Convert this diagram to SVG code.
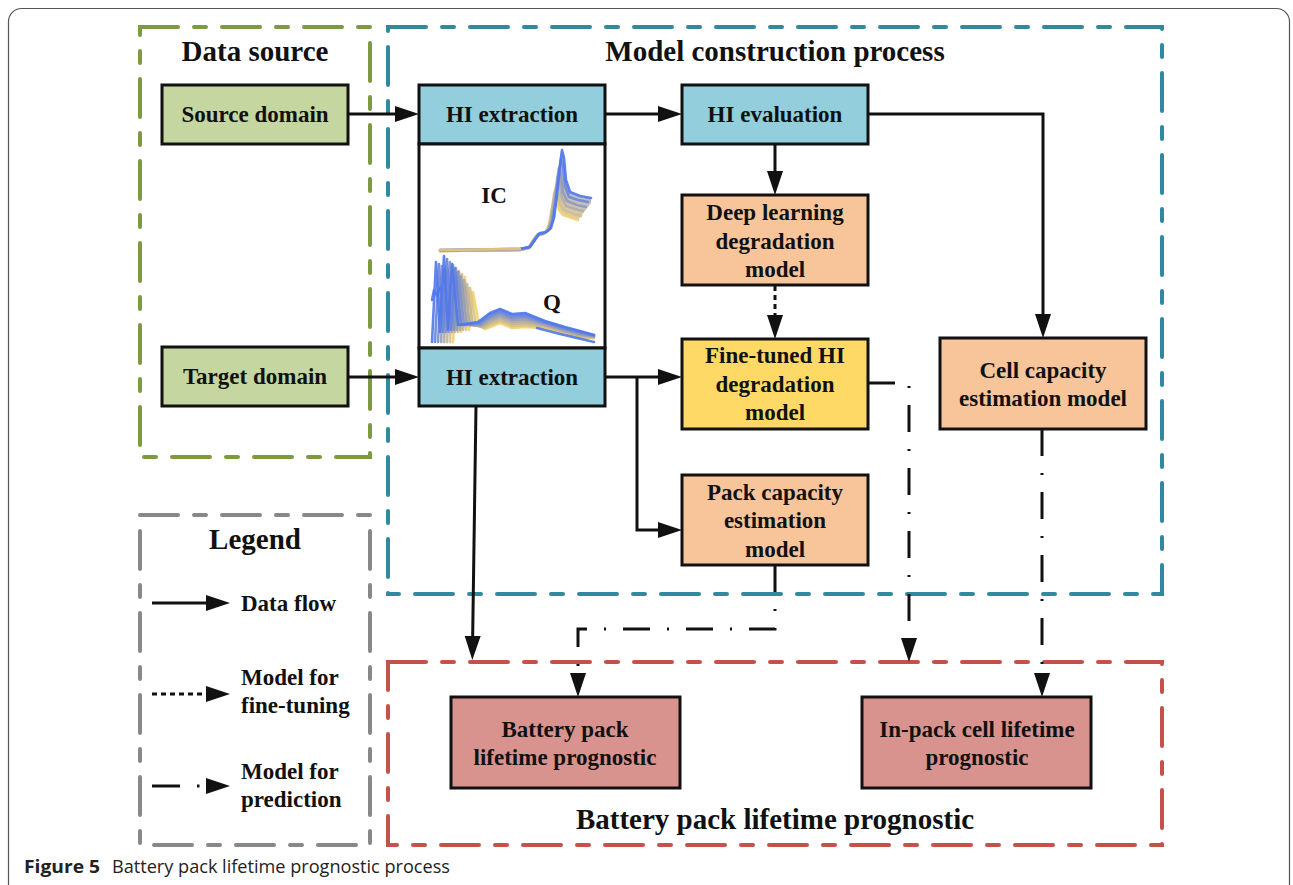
<svg xmlns="http://www.w3.org/2000/svg" width="1293" height="885" viewBox="0 0 1293 885">
<defs>
<style>
.t{font-family:"Liberation Serif","Times New Roman",serif;font-weight:bold;fill:#111;}
.bx{font-size:23px;text-anchor:middle;}
.ti{font-size:29px;text-anchor:middle;}
.lg{font-size:23px;}
.box{stroke:#111;stroke-width:3;}
.grp{fill:none;stroke-width:4;stroke-linecap:round;stroke-dasharray:38 16 12 16;}
.c{fill:none;stroke:#111;stroke-width:3;}
.dot{stroke-dasharray:5 4;}
.dd{stroke-dasharray:27 17 2 17;}
.cv{fill:none;stroke-width:2.6;stroke-linejoin:round;stroke-linecap:round;opacity:0.9;}
.cap{font-family:"Open Sans","Noto Sans","Liberation Sans",sans-serif;font-size:17px;fill:#222;}
</style>
<linearGradient id="icg" x1="1" y1="0" x2="0.6" y2="1">
<stop offset="0" stop-color="#4f77ee"/>
<stop offset="1" stop-color="#f3cf6e"/>
</linearGradient>
<linearGradient id="qg" x1="0" y1="0" x2="0" y2="1">
<stop offset="0" stop-color="#6684dc"/>
<stop offset="1" stop-color="#f3cf6e"/>
</linearGradient>
<marker id="ah" markerUnits="userSpaceOnUse" markerWidth="26" markerHeight="18" refX="12" refY="8" orient="auto">
<path d="M0,0 L24,8 L0,16 z" fill="#111"/>
</marker>
</defs>
<rect x="0" y="0" width="1293" height="885" fill="#fff"/>
<rect x="8.5" y="8.5" width="1281" height="900" rx="13" fill="#fff" stroke="#555" stroke-width="1.2"/>

<g id="group-data-source">
<rect class="grp" x="140" y="27" width="230" height="430" stroke="#7d9a3f"/>
<text class="t ti" x="255" y="61">Data source</text>
</g>
<g id="group-model-construction">
<rect class="grp" x="388" y="27" width="774" height="567" stroke="#2f8a9e"/>
<text class="t ti" x="775" y="61">Model construction process</text>
</g>
<g id="group-legend">
<rect class="grp" x="140" y="515" width="230" height="330" stroke="#888"/>
<text class="t ti" x="255" y="549">Legend</text>
</g>
<g id="group-prognostic">
<rect class="grp" x="388" y="662" width="774" height="183" stroke="#c4514a"/>
<text class="t ti" x="775" y="829">Battery pack lifetime prognostic</text>
</g>

<g id="source-domain">
<rect class="box" x="162" y="85" width="186" height="59" fill="#c5d6a0"/>
<text class="t bx" x="255" y="122">Source domain</text>
</g>
<g id="target-domain">
<rect class="box" x="162" y="347" width="186" height="59" fill="#c5d6a0"/>
<text class="t bx" x="255" y="384">Target domain</text>
</g>
<g id="hi-extraction-1">
<rect class="box" x="419" y="85" width="186" height="59" fill="#92cedb"/>
<text class="t bx" x="512" y="122">HI extraction</text>
</g>
<g id="hi-chart">
<rect class="box" x="419" y="144" width="186" height="204" fill="#fff"/>
<g id="ic-curves">
<polygon fill="url(#icg)" opacity="0.75" points="540,233 546,232 551,228 554,218 557,195 560,165 562,150 564,158 566,180 570,192 580,196 591,198 591,203 578,220 572,218 563,215 559,210 557,200 555,196 553,203 551,213 549,224 546,232 541,235 536,236"/>
<polyline class="cv" stroke="#f3cf6e" points="440,251 520,250 528,248 532,242 536,236 541,235 546,232 549,224 551,213 553,203 555,196 557,200 559,210 563,215 572,218 578,220"/>
<polyline class="cv" stroke="#d2bd8e" points="440,251 520,250 528,248 533,242 537,235 542,234 547,231 550,223 552,209 554,195 556,187 558,192 560,204 564,210 574,214 581,216"/>
<polyline class="cv" stroke="#b2aba6" points="440,251 520,250 529,248 533,241 538,235 543,234 548,230 551,222 553,206 556,188 558,178 560,183 562,198 566,206 575,209 583,211"/>
<polyline class="cv" stroke="#9199be" points="440,250 520,249 529,247 534,241 538,234 544,233 549,230 552,220 555,202 557,180 559,168 561,175 563,192 567,201 577,205 586,207"/>
<polyline class="cv" stroke="#7088d6" points="440,250 520,249 530,247 534,240 539,234 545,233 550,229 553,219 556,199 559,173 561,159 563,166 565,186 569,197 578,200 588,202"/>
<polyline class="cv" stroke="#4f77ee" points="520,249 530,247 535,240 540,233 546,232 551,228 554,218 557,195 560,165 562,150 564,158 566,180 570,192 580,196 591,198"/>
<polyline class="cv" stroke="#e8c878" points="440,250 520,249"/>
</g>
<g id="q-curves">
<polygon fill="url(#qg)" opacity="0.55" points="478,322 490,313 500,309 512,314 525,313 545,321 565,327 580,331 594,335 594,338 580,338 565,334 545,328 525,327 512,328 500,323 490,327 485,329"/>
<polyline class="cv" stroke="#f3cf6e" points="453,342 457,276 461,332 465,277 469,330 473,292 479,325 485,329 490,327 500,323 512,328 525,327 545,328 565,334 580,338 594,338"/>
<polyline class="cv" stroke="#dcc280" points="450,342 454,274 458,332 462,274 466,330 470,288 476,325 484,328 490,325 500,321 512,326 525,325 545,327 565,333 580,337 594,338"/>
<polyline class="cv" stroke="#c4b693" points="447,342 451,272 455,332 459,271 463,330 467,284 473,325 483,327 490,323 500,319 512,324 525,323 545,326 565,332 580,336 594,337"/>
<polyline class="cv" stroke="#ada9a5" points="444,342 448,270 452,332 456,268 460,330 464,280 470,325 482,326 490,321 500,317 512,322 525,321 545,325 565,331 580,335 594,337"/>
<polyline class="cv" stroke="#959db7" points="441,342 445,268 449,332 453,265 457,330 461,276 467,325 481,325 490,319 500,315 512,320 525,319 545,324 565,330 580,334 594,336"/>
<polyline class="cv" stroke="#7e90c9" points="438,342 442,266 446,332 450,262 454,330 458,272 464,325 480,324 490,317 500,313 512,318 525,317 545,323 565,329 580,333 594,336"/>
<polyline class="cv" stroke="#6684dc" points="435,342 439,264 443,332 447,259 451,330 455,268 461,325 479,323 490,315 500,311 512,316 525,315 545,322 565,328 580,332 594,335"/>
<polyline class="cv" stroke="#4f77ee" points="432,342 436,262 440,332 444,256 448,330 452,264 458,325 478,322 490,313 500,309 512,314 525,313 545,321 565,327 580,331 594,335"/>
<polyline class="cv" stroke="#4f77ee" points="432,300 434,290 437,296 440,288"/>
<polyline class="cv" stroke="#4f77ee" points="537,328 560,334 594,342"/>
</g>
<text class="t bx" x="494" y="203">IC</text>
<text class="t bx" x="552" y="310">Q</text>
</g>
<g id="hi-extraction-2">
<rect class="box" x="419" y="348" width="186" height="58" fill="#92cedb"/>
<text class="t bx" x="512" y="385">HI extraction</text>
</g>
<g id="hi-evaluation">
<rect class="box" x="682" y="85" width="186" height="59" fill="#92cedb"/>
<text class="t bx" x="775" y="122">HI evaluation</text>
</g>
<g id="deep-learning">
<rect class="box" x="682" y="195" width="186" height="90" fill="#f8c59b"/>
<text class="t bx" x="775" y="220">Deep learning</text>
<text class="t bx" x="775" y="249">degradation</text>
<text class="t bx" x="775" y="277">model</text>
</g>
<g id="fine-tuned">
<rect class="box" x="682" y="339" width="186" height="90" fill="#fed966"/>
<text class="t bx" x="775" y="363">Fine-tuned HI</text>
<text class="t bx" x="775" y="392">degradation</text>
<text class="t bx" x="775" y="420">model</text>
</g>
<g id="pack-capacity">
<rect class="box" x="682" y="475" width="186" height="90" fill="#f8c59b"/>
<text class="t bx" x="775" y="500">Pack capacity</text>
<text class="t bx" x="775" y="528">estimation</text>
<text class="t bx" x="775" y="557">model</text>
</g>
<g id="cell-capacity">
<rect class="box" x="940" y="338" width="206" height="91" fill="#f8c59b"/>
<text class="t bx" x="1043" y="378">Cell capacity</text>
<text class="t bx" x="1043" y="406">estimation model</text>
</g>
<g id="battery-pack-prognostic">
<rect class="box" x="451" y="697" width="229" height="91" fill="#d8938f"/>
<text class="t bx" x="565" y="737">Battery pack</text>
<text class="t bx" x="565" y="765">lifetime prognostic</text>
</g>
<g id="cell-prognostic">
<rect class="box" x="862" y="697" width="229" height="91" fill="#d8938f"/>
<text class="t bx" x="977" y="737">In-pack cell lifetime</text>
<text class="t bx" x="977" y="765">prognostic</text>
</g>

<g id="connectors">
<path class="c" d="M348,114 H407" marker-end="url(#ah)"/>
<path class="c" d="M605,114 H670" marker-end="url(#ah)"/>
<path class="c" d="M868,114 H1043 V326" marker-end="url(#ah)"/>
<path class="c" d="M775,144 V183" marker-end="url(#ah)"/>
<path class="c dot" d="M775,286 V327" marker-end="url(#ah)"/>
<path class="c" d="M348,377 H407" marker-end="url(#ah)"/>
<path class="c" d="M605,377 H670" marker-end="url(#ah)"/>
<path class="c" d="M637,377 V530 H670" marker-end="url(#ah)"/>
<path class="c" d="M476,406 L472.5,648" marker-end="url(#ah)"/>
<path class="c dd" d="M868,383 H909 V650" marker-end="url(#ah)"/>
<path class="c dd" d="M1042,429 V685" marker-end="url(#ah)"/>
<path class="c dd" d="M775,565 V629 H578 V685" marker-end="url(#ah)"/>
</g>

<g id="legend-items">
<path class="c" d="M152,603 H218" marker-end="url(#ah)"/>
<text class="t lg" x="241" y="611">Data flow</text>
<path class="c dot" d="M152,694 H218" marker-end="url(#ah)"/>
<text class="t lg" x="241" y="685">Model for</text>
<text class="t lg" x="241" y="713">fine-tuning</text>
<path class="c" d="M152,786 H180 M197,786 H199.5"/>
<path class="c" d="M214,786 H218" marker-end="url(#ah)"/>
<text class="t lg" x="241" y="779">Model for</text>
<text class="t lg" x="241" y="807">prediction</text>
</g>

<g id="caption">
<text class="cap" x="24" y="873"><tspan font-weight="bold" font-size="18.5" textLength="76" lengthAdjust="spacingAndGlyphs">Figure 5</tspan><tspan x="112" font-size="17.5" textLength="338" lengthAdjust="spacingAndGlyphs">Battery pack lifetime prognostic process</tspan></text>
</g>
</svg>
